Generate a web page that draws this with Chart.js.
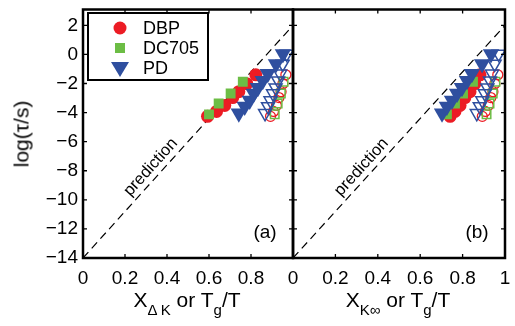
<!DOCTYPE html>
<html>
<head>
<meta charset="utf-8">
<script src="https://cdn.jsdelivr.net/npm/chart.js@4/dist/chart.umd.min.js"></script>
<style>
  body { margin: 0; background: #fff; }
  #wrap { position: relative; width: 515px; height: 326px; font-family: "Liberation Sans", Arial, sans-serif; color: #000; }
  canvas { position: absolute; left: 0; top: 0; }
  .xt { position: absolute; top: 289px; font-size: 21px; line-height: 21px; white-space: nowrap; transform: translateX(-50%); }
  .xt .s { position: relative; top: 8px; font-size: 15px; }
  .yt { position: absolute; left: 21px; top: 134px; font-size: 21px; line-height: 21px; white-space: nowrap; transform: translate(-50%, -50%) rotate(-90deg); }
</style>
</head>
<body>
<div id="wrap">
  <canvas id="chartA" width="515" height="326"></canvas>
  <canvas id="chartB" width="515" height="326"></canvas>
  <div class="yt">log(τ/s)</div>
  <div class="xt" style="left:187px">X<span class="s">Δ K</span> or T<span class="s">g</span>/T</div>
  <div class="xt" style="left:398px">X<span class="s">K∞</span> or T<span class="s">g</span>/T</div>
</div>
<script>
// ticks
const yTicks = [-14, -12, -10, -8, -6, -4, -2, 0, 2];
const xTicksA = [0, 0.2, 0.4, 0.6, 0.8];
const xTicksB = [0, 0.2, 0.4, 0.6, 0.8, 1];

// log(tau/s) for each liquid (same values in both panels)
const logTauDBP = [-4.26, -3.92, -3.51, -2.97, -2.56, -2.01, -1.40];
const logTauDC705 = [-4.12, -3.37, -2.69, -1.88];
const logTauPD = [-4.05, -3.58, -3.17, -2.69, -2.29, -1.81, -1.33, -0.65, 0.03];

// Tg/T (open symbols)
const tgTDBP = [0.893, 0.907, 0.921, 0.933, 0.943, 0.952, 0.966];
const tgTDC705 = [0.913, 0.927, 0.942, 0.955];
const tgTPD = [0.867, 0.881, 0.893, 0.905, 0.917, 0.929, 0.939, 0.951, 0.970];

// X_deltaK (panel a, filled)
const xDkDBP = [0.593, 0.636, 0.675, 0.713, 0.742, 0.78, 0.823];
const xDkDC705 = [0.6, 0.646, 0.703, 0.761];
const xDkPD = [0.742, 0.77, 0.794, 0.813, 0.833, 0.856, 0.88, 0.919, 0.952];

// X_Kinf (panel b, filled)
const xKiDBP = [0.741, 0.764, 0.788, 0.811, 0.835, 0.858, 0.882];
const xKiDC705 = [0.726, 0.764, 0.802, 0.849];
const xKiPD = [0.703, 0.726, 0.75, 0.774, 0.797, 0.821, 0.844, 0.892, 0.934];

// prediction line
const predX = [0, 1];
const predY = [-14, 2];

const RED = "#ec1c24", GREEN = "#6cbd45", BLUE = "#2f4f9f";
const FONT = '"Liberation Sans", Arial, sans-serif';

function pts(xs, ys) { return xs.map((v, i) => ({ x: v, y: ys[i] })); }
function minus(v) { return String(v).replace("-", "\u2212"); }

function datasets(xDBP, xDC, xPD) {
  return [
    { data: pts(xPD, logTauPD), pointStyle: "triangle", pointRotation: 180, pointRadius: 9.5, backgroundColor: BLUE, borderColor: BLUE, borderWidth: 0, order: 1 },
    { data: pts(tgTPD, logTauPD), pointStyle: "triangle", pointRotation: 180, pointRadius: 7.5, backgroundColor: "rgba(0,0,0,0)", borderColor: BLUE, borderWidth: 1.5, order: 2 },
    { data: pts(xDC, logTauDC705), pointStyle: "rect", pointRadius: 7, backgroundColor: GREEN, borderColor: GREEN, borderWidth: 0, order: 3 },
    { data: pts(tgTDC705, logTauDC705), pointStyle: "rect", pointRadius: 6, backgroundColor: "rgba(0,0,0,0)", borderColor: GREEN, borderWidth: 1.5, order: 4 },
    { data: pts(xDBP, logTauDBP), pointStyle: "circle", pointRadius: 6.5, backgroundColor: RED, borderColor: RED, borderWidth: 0, order: 5 },
    { data: pts(tgTDBP, logTauDBP), pointStyle: "circle", pointRadius: 5, backgroundColor: "rgba(0,0,0,0)", borderColor: RED, borderWidth: 1.3, order: 6 },
    { type: "line", data: pts(predX, predY), showLine: true, borderColor: "#000", borderWidth: 1.2, borderDash: [8, 5], pointRadius: 0, order: 10 }
  ];
}

function panelPlugin(label, withLegend) {
  return {
    id: "panel" + label,
    afterDraw(chart) {
      const { ctx, chartArea: a, scales: { x, y } } = chart;
      ctx.save();
      // inward ticks
      ctx.strokeStyle = "#000";
      ctx.lineWidth = 1.3;
      ctx.beginPath();
      x.ticks.forEach(t => {
        const px = x.getPixelForValue(t.value);
        ctx.moveTo(px, a.bottom); ctx.lineTo(px, a.bottom - 4);
        ctx.moveTo(px, a.top); ctx.lineTo(px, a.top + 4);
      });
      y.ticks.forEach(t => {
        const py = y.getPixelForValue(t.value);
        ctx.moveTo(a.left, py); ctx.lineTo(a.left + 4, py);
        ctx.moveTo(a.right, py); ctx.lineTo(a.right - 4, py);
      });
      ctx.stroke();
      // frame
      ctx.lineWidth = 2.5;
      ctx.strokeRect(a.left, a.top, a.right - a.left, a.bottom - a.top);

      // "prediction" label along the dashed line
      const x0 = x.getPixelForValue(predX[0]), y0 = y.getPixelForValue(predY[0]);
      const x1 = x.getPixelForValue(predX[1]), y1 = y.getPixelForValue(predY[1]);
      const th = Math.atan2(y1 - y0, x1 - x0);
      const f = 0.36;
      const lx = x0 + (x1 - x0) * f, ly = y0 + (y1 - y0) * f;
      const d = 10.5;
      ctx.translate(lx + d * Math.sin(th), ly - d * Math.cos(th));
      ctx.rotate(th);
      ctx.fillStyle = "#000";
      ctx.font = "16.5px " + FONT;
      ctx.textAlign = "center";
      ctx.textBaseline = "middle";
      ctx.fillText("prediction", 0, 0);
      ctx.setTransform(1, 0, 0, 1, 0, 0);

      // panel letter
      ctx.font = "19px " + FONT;
      ctx.textAlign = "center";
      ctx.textBaseline = "middle";
      ctx.fillText(label, a.right - 28, a.bottom - 25);

      if (withLegend) {
        const bx = 88, by = 13, bw = 120, bh = 67;
        ctx.fillStyle = "#fff";
        ctx.fillRect(bx, by, bw, bh);
        ctx.lineWidth = 2;
        ctx.strokeStyle = "#000";
        ctx.strokeRect(bx, by, bw, bh);
        const names = ["DBP", "DC705", "PD"];
        const rows = [28, 48, 68];
        // markers
        ctx.fillStyle = RED;
        ctx.beginPath(); ctx.arc(120, rows[0], 6.5, 0, Math.PI * 2); ctx.fill();
        ctx.fillStyle = GREEN;
        ctx.fillRect(115, rows[1] - 5, 10, 10);
        ctx.fillStyle = BLUE;
        ctx.beginPath();
        ctx.moveTo(111, rows[2] - 6); ctx.lineTo(129, rows[2] - 6); ctx.lineTo(120, rows[2] + 9);
        ctx.closePath(); ctx.fill();
        ctx.fillStyle = "#000";
        ctx.font = "18px " + FONT;
        ctx.textAlign = "left";
        names.forEach((n, i) => ctx.fillText(n, 143, rows[i] + 1));
      }
      ctx.restore();
    }
  };
}

function makeChart(id, xDBP, xDC, xPD, xTicks, pad, showY, label, withLegend) {
  return new Chart(document.getElementById(id), {
    type: "scatter",
    data: { datasets: datasets(xDBP, xDC, xPD) },
    options: {
      responsive: false,
      animation: false,
      events: [],
      layout: { padding: pad },
      plugins: { legend: { display: false }, tooltip: { enabled: false } },
      scales: {
        x: {
          type: "linear", min: 0, max: 1,
          grid: { display: false, drawTicks: false },
          border: { display: false },
          afterBuildTicks: s => { s.ticks = xTicks.map(v => ({ value: v })); },
          afterFit: s => { s.height = 68; s.paddingLeft = 0; s.paddingRight = 0; },
          ticks: { padding: 9, color: "#000", font: { family: FONT, size: 19 }, maxRotation: 0, callback: v => minus(v) }
        },
        y: {
          type: "linear", min: -14, max: 3.09, display: showY,
          grid: { display: false, drawTicks: false },
          border: { display: false },
          afterBuildTicks: s => { s.ticks = yTicks.map(v => ({ value: v })); },
          afterFit: s => { s.width = showY ? 83 : 0; s.paddingTop = 0; s.paddingBottom = 0; },
          ticks: { padding: 5, color: "#000", font: { family: FONT, size: 19 }, callback: v => minus(v) }
        }
      }
    },
    plugins: [panelPlugin(label, withLegend)]
  });
}

makeChart("chartA", xDkDBP, xDkDC705, xDkPD, xTicksA, { top: 7, right: 222, left: 0, bottom: 0 }, true, "(a)", true);
makeChart("chartB", xKiDBP, xKiDC705, xKiPD, xTicksB, { top: 7, right: 10, left: 293, bottom: 0 }, false, "(b)", false);
</script>
</body>
</html>
